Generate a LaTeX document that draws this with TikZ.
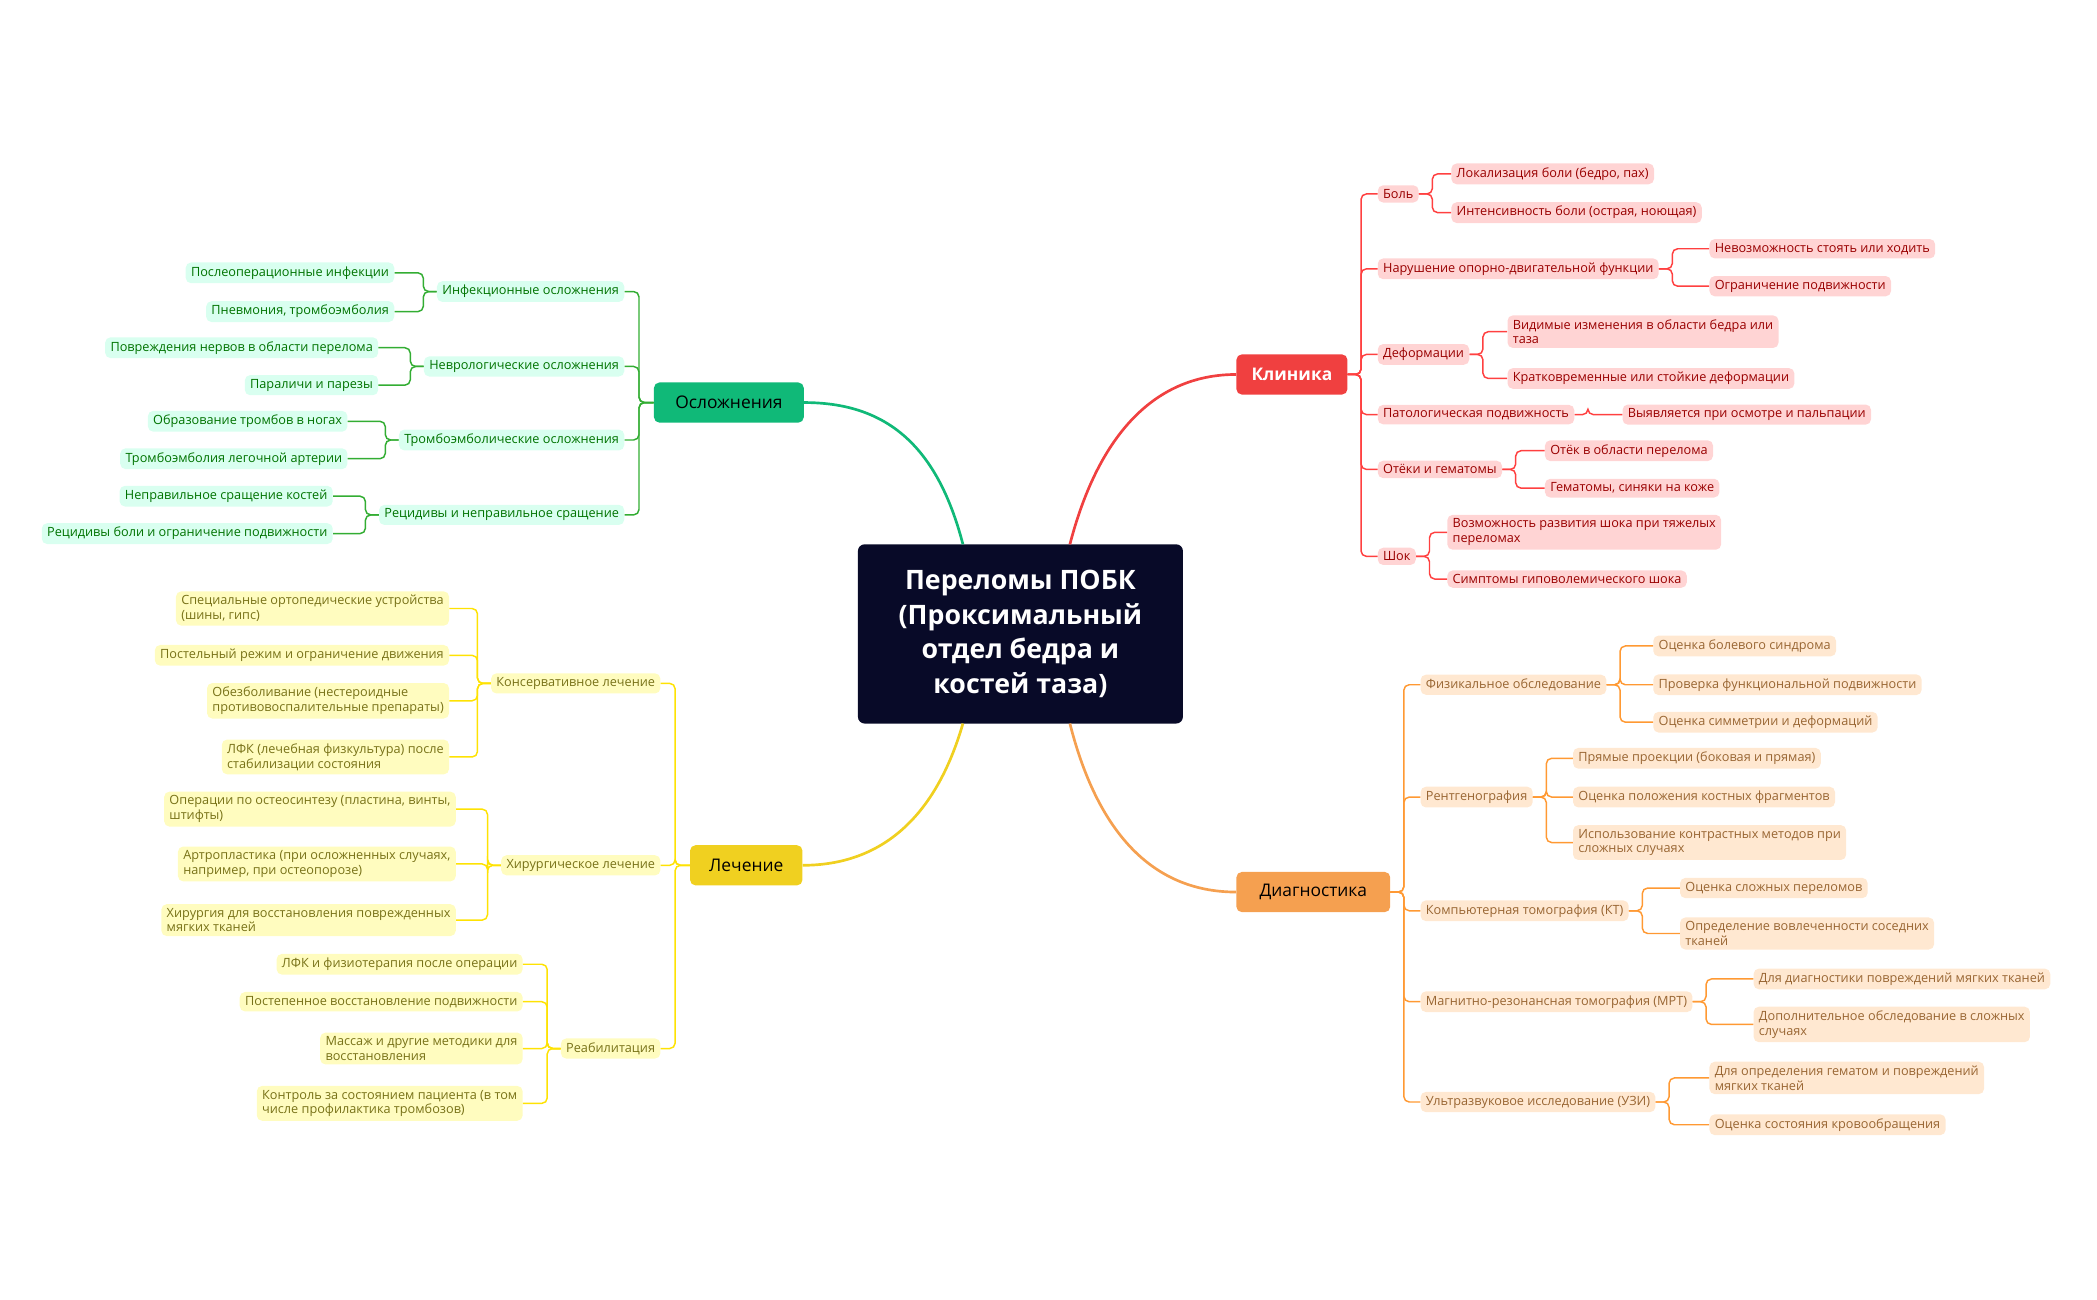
\documentclass[tikz,border=0pt]{standalone}
\usepackage{fontspec}
\setmainfont{Open Sans}
\begin{document}
\begin{tikzpicture}[x=1pt,y=-1pt,
 leaf/.style={rounded corners=4pt,inner xsep=4pt,inner ysep=3pt,font=\fontsize{9.5}{11}\selectfont,align=left},
 R/.style={leaf,fill=red!17,text=red!60!black},
 O/.style={leaf,fill=orange!18,text=brown!80!black},
 G/.style={leaf,fill=green!40!cyan!15,text=green!45!black},
 Y/.style={leaf,fill=yellow!25,text=olive!80!black},
 rl/.style={draw=red!75,line width=1.1pt,rounded corners=4pt},
 ol/.style={draw=orange!80,line width=1.1pt,rounded corners=4pt},
 gl/.style={draw=green!60!black!80,line width=1.1pt,rounded corners=4pt},
 yl/.style={draw=yellow!85!orange,line width=1.1pt,rounded corners=4pt},
 main/.style={rounded corners=4pt,font=\fontsize{13}{15}\selectfont,minimum height=30pt}]
\useasboundingbox (0,0) rectangle (1568,972);
\node[fill={rgb,255:red,8;green,10;blue,40},rounded corners=5pt,text=white,font=\bfseries\fontsize{20}{26}\selectfont,align=center,minimum width=243pt,minimum height=134pt] (c) at (763,474) {Переломы ПОБК\\(Проксимальный\\отдел бедра и\\костей таза)};
\node[main,fill={rgb,255:red,16;green,185;blue,120},minimum width=112pt] (G) at (545,301) {Осложнения};
\node[main,fill={rgb,255:red,240;green,64;blue,64},text=white,font=\bfseries\fontsize{13}{15}\selectfont,minimum width=83pt] (R) at (966,280) {Клиника};
\node[main,fill={rgb,255:red,240;green,208;blue,32},minimum width=84pt] (Y) at (558,647) {Лечение};
\node[main,fill={rgb,255:red,245;green,160;blue,80},minimum width=115pt] (O) at (982,667) {Диагностика};
\draw[line width=2pt,draw={rgb,255:red,16;green,185;blue,120}] (720,407) .. controls (700,330) and (660,301) .. (G.east);
\draw[line width=2pt,draw={rgb,255:red,240;green,64;blue,64}] (800,407) .. controls (820,330) and (860,280) .. (R.west);
\draw[line width=2pt,draw={rgb,255:red,240;green,208;blue,32}] (720,541) .. controls (700,610) and (660,647) .. (Y.east);
\draw[line width=2pt,draw={rgb,255:red,245;green,160;blue,80}] (800,541) .. controls (820,620) and (860,667) .. (O.west);
% Klinika
\foreach \n/\y/\t in {r1/145/Боль,r2/201/Нарушение опорно-двигательной функции,r3/265/Деформации,r4/310/Патологическая подвижность,r5/351/Отёки и гематомы,r6/416/Шок}
 {\node[R,anchor=west] (\n) at (1030,\y) {\t}; \draw[rl] (R.east) -- +(10,0) |- (\n.west);}
\foreach \p/\n/\x/\y/\t in {r1/r1a/1085/130/Локализация боли (бедро{,} пах),r1/r1b/1085/159/Интенсивность боли (острая{,} ноющая),r2/r2a/1278/186/Невозможность стоять или ходить,r2/r2b/1278/214/Ограничение подвижности,r3/r3a/1127/248/Видимые изменения в области бедра или\\таза,r3/r3b/1127/283/Кратковременные или стойкие деформации,r4/r4a/1213/310/Выявляется при осмотре и пальпации,r5/r5a/1155/337/Отёк в области перелома,r5/r5b/1155/365/Гематомы{,} синяки на коже,r6/r6a/1082/398/Возможность развития шока при тяжелых\\переломах,r6/r6b/1082/433/Симптомы гиповолемического шока}
 {\node[R,anchor=west] (\n) at (\x,\y) {\t}; \draw[rl] (\p.east) -- +(10,0) |- (\n.west);}
% Diagnostika
\foreach \n/\y/\t in {o1/512/Физикальное обследование,o2/596/Рентгенография,o3/681/Компьютерная томография (КТ),o4/749/Магнитно-резонансная томография (МРТ),o5/824/Ультразвуковое исследование (УЗИ)}
 {\node[O,anchor=west] (\n) at (1062,\y) {\t}; \draw[ol] (O.east) -- +(10,0) |- (\n.west);}
\foreach \p/\n/\x/\y/\t in {o1/o1a/1236/483/Оценка болевого синдрома,o1/o1b/1236/512/Проверка функциональной подвижности,o1/o1c/1236/540/Оценка симметрии и деформаций,o2/o2a/1176/567/Прямые проекции (боковая и прямая),o2/o2b/1176/596/Оценка положения костных фрагментов,o2/o2c/1176/630/Использование контрастных методов при\\сложных случаях,o3/o3a/1256/664/Оценка сложных переломов,o3/o3b/1256/698/Определение вовлеченности соседних\\тканей,o4/o4a/1311/732/Для диагностики повреждений мягких тканей,o4/o4b/1311/766/Дополнительное обследование в сложных\\случаях,o5/o5a/1278/806/Для определения гематом и повреждений\\мягких тканей,o5/o5b/1278/841/Оценка состояния кровообращения}
 {\node[O,anchor=west] (\n) at (\x,\y) {\t}; \draw[ol] (\p.east) -- +(10,0) |- (\n.west);}
% Oslozhneniya
\foreach \n/\y/\t in {g1/218/Инфекционные осложнения,g2/274/Неврологические осложнения,g3/329/Тромбоэмболические осложнения,g4/385/Рецидивы и неправильное сращение}
 {\node[G,anchor=east] (\n) at (467,\y) {\t}; \draw[gl] (G.west) -- +(-11,0) |- (\n.east);}
\foreach \p/\n/\x/\y/\t in {g1/g1a/295/204/Послеоперационные инфекции,g1/g1b/295/233/Пневмония{,} тромбоэмболия,g2/g2a/283/260/Повреждения нервов в области перелома,g2/g2b/283/288/Параличи и парезы,g3/g3a/260/315/Образование тромбов в ногах,g3/g3b/260/343/Тромбоэмболия легочной артерии,g4/g4a/249/371/Неправильное сращение костей,g4/g4b/249/399/Рецидивы боли и ограничение подвижности}
 {\node[G,anchor=east] (\n) at (\x,\y) {\t}; \draw[gl] (\p.west) -- +(-10,0) |- (\n.east);}
% Lechenie
\foreach \n/\y/\t in {y1/511/Консервативное лечение,y2/647/Хирургическое лечение,y3/784/Реабилитация}
 {\node[Y,anchor=east] (\n) at (494,\y) {\t}; \draw[yl] (Y.west) -- +(-11,0) |- (\n.east);}
\foreach \p/\n/\x/\y/\t in {y1/y1a/336/455/Специальные ортопедические устройства\\(шины{,} гипс),y1/y1b/336/490/Постельный режим и ограничение движения,y1/y1c/336/524/Обезболивание (нестероидные\\противовоспалительные препараты),y1/y1d/336/566/ЛФК (лечебная физкультура) после\\стабилизации состояния,y2/y2a/341/605/Операции по остеосинтезу (пластина{,} винты{,}\\штифты),y2/y2b/341/646/Артропластика (при осложненных случаях{,}\\например{,} при остеопорозе),y2/y2c/341/688/Хирургия для восстановления поврежденных\\мягких тканей,y3/y3a/391/721/ЛФК и физиотерапия после операции,y3/y3b/391/749/Постепенное восстановление подвижности,y3/y3c/391/784/Массаж и другие методики для\\восстановления,y3/y3d/391/825/Контроль за состоянием пациента (в том\\числе профилактика тромбозов)}
 {\node[Y,anchor=east] (\n) at (\x,\y) {\t}; \draw[yl] (\p.west) -- +(-10,0) |- (\n.east);}
\end{tikzpicture}
\end{document}
